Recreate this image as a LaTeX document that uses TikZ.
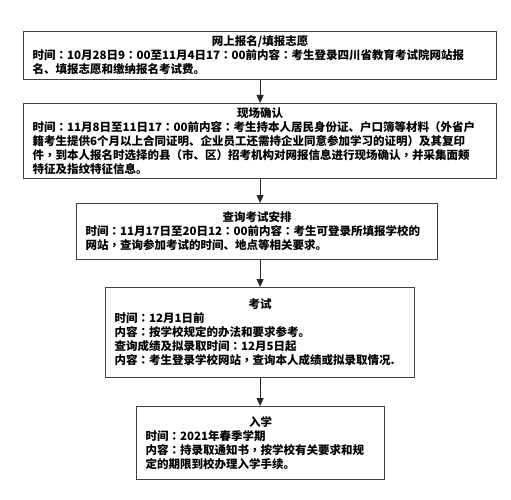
\documentclass[tikz,border=0pt]{standalone}
\usepackage{fontspec}
\setmainfont{Noto Sans CJK SC}
\newfontfamily\tcpunct{Noto Sans CJK TC}
\usetikzlibrary{arrows.meta}

\tikzset{
  stage/.style={draw=black!75, line width=1.2pt, anchor=north west, align=left,
    inner xsep=9pt, inner ysep=2pt, font=\fontsize{11.5pt}{14pt}\selectfont\bfseries},
  flow/.style={line width=1pt, black!85, -{Triangle[width=7pt,length=8pt]}}
}
\newcommand{\stagetitle}[1]{\makebox[\linewidth][c]{#1}\\}
\newcommand{\cnc}{{\tcpunct ：}}
\newcommand{\cnm}{{\tcpunct ，}}

\begin{document}
\begin{tikzpicture}[x=1pt,y=1pt]
    \useasboundingbox (0,0) rectangle (511,-500);

    \node[stage, minimum width=473pt, minimum height=48pt, text width=455pt] (signup) at (23,-31)
    {\stagetitle{网上报名/填报志愿}
    时间\cnc 10月28日9\cnc 00至11月4日17\cnc 00前内容\cnc 考生登录四川省教育考试院网站报\\
    名、填报志愿和缴纳报名考试费。};

    \node[stage, minimum width=473pt, minimum height=75pt, text width=455pt] (confirm) at (23,-103)
    {\stagetitle{现场确认}
    时间\cnc 11月8日至11日17\cnc 00前内容\cnc 考生持本人居民身份证、户口簿等材料（外省户\\
    籍考生提供6个月以上合同证明、企业员工还需持企业同意参加学习的证明）及其复印\\
    件\cnm 到本人报名时选择的县（市、区）招考机构对网报信息进行现场确认\cnm 并采集面颊\\
    特征及指纹特征信息。};

    \node[stage, minimum width=361pt, minimum height=56pt, text width=343pt] (query) at (76,-203)
    {\stagetitle{查询考试安排}
    时间\cnc 11月17日至20日12\cnc 00前内容\cnc 考生可登录所填报学校的\\
    网站\cnm 查询参加考试的时间、地点等相关要求。};

    \node[stage, minimum width=309pt, minimum height=90pt, text width=291pt] (exam) at (105,-287)
    {\stagetitle{考试}
    时间\cnc 12月1日前\\
    内容\cnc 按学校规定的办法和要求参考。\\
    查询成绩及拟录取时间\cnc 12月5日起\\
    内容\cnc 考生登录学校网站\cnm 查询本人成绩或拟录取情况.};

    \node[stage, minimum width=248pt, minimum height=73pt, text width=230pt] (enrol) at (136,-406)
    {\stagetitle{入学}
    时间\cnc 2021年春季学期\\
    内容\cnc 持录取通知书\cnm 按学校有关要求和规\\
    定的期限到校办理入学手续。};

    % arrows between the stages
    \draw[flow] (signup.south) -- (signup.south |- confirm.north);
    \draw[flow] (confirm.south) -- (confirm.south |- query.north);
    \draw[flow] (confirm.south |- query.south) -- (confirm.south |- exam.north);
    \draw[flow] (confirm.south |- exam.south) -- (confirm.south |- enrol.north);

\end{tikzpicture}
\end{document}
